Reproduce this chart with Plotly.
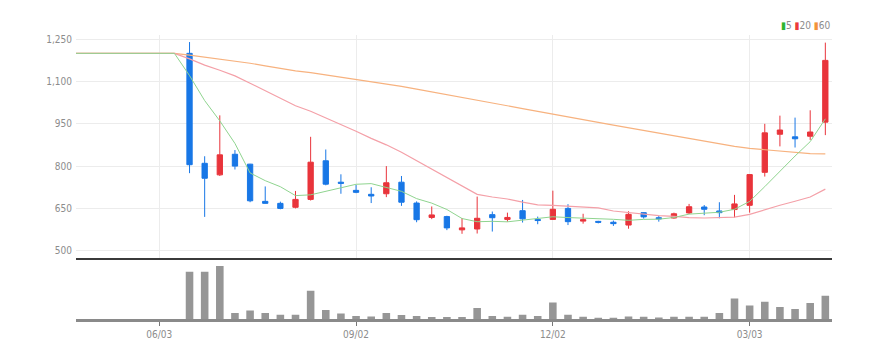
import plotly.graph_objects as go
from plotly.subplots import make_subplots
import pandas as pd

# ---- data (weekly candles) ----
dates = pd.date_range("2024-06-17", periods=43, freq="7D").strftime("%Y-%m-%d").tolist()
opens  = [1200, 810, 769, 842, 807, 675, 668, 654, 682, 819,
          743, 714, 700, 702, 743, 669, 618, 621, 574, 577,
          628, 611, 642, 611, 611, 650, 605, 604, 601, 591,
          635, 617, 616, 634, 655, 641, 646, 661, 778, 913,
          904, 906, 956]
highs  = [1240, 835, 980, 857, 808, 728, 674, 712, 904, 859,
          771, 733, 725, 800, 765, 675, 657, 624, 616, 692,
          639, 635, 680, 621, 713, 665, 631, 606, 607, 640,
          636, 624, 635, 666, 662, 672, 698, 771, 950, 979,
          972, 998, 1238]
lows   = [775, 620, 765, 788, 672, 667, 647, 650, 678, 732,
          702, 704, 669, 690, 659, 601, 612, 573, 560, 561,
          568, 603, 600, 594, 609, 591, 596, 597, 588, 578,
          614, 603, 614, 630, 626, 615, 618, 635, 763, 870,
          866, 893, 910]
closes = [805, 757, 840, 800, 677, 668, 650, 682, 814, 736,
          739, 707, 694, 741, 672, 610, 627, 581, 581, 615,
          617, 618, 613, 607, 647, 603, 610, 601, 596, 629,
          620, 613, 631, 656, 647, 635, 666, 770, 918, 928,
          897, 921, 1175]
volumes = [4730000, 4730000, 5300000, 600000, 860000, 600000, 430000, 430000, 2830000, 900000,
           560000, 300000, 260000, 600000, 400000, 300000, 200000, 200000, 200000, 1100000,
           300000, 230000, 430000, 300000, 1660000, 430000, 230000, 100000, 100000, 260000,
           230000, 160000, 230000, 230000, 230000, 600000, 2060000, 1360000, 1730000, 1200000,
           1000000, 1600000, 2330000]

# moving-average lines (pre-listing weeks sit at the 1,200 offer price)
ma_dates = ["2024-04-22", "2024-04-29", "2024-05-06", "2024-05-13",
            "2024-05-20", "2024-05-27", "2024-06-03", "2024-06-10"] + dates
ma5 = [1200, 1200, 1200, 1200, 1200, 1200, 1200, 1200,
       1121.0, 1032.4, 960.4, 880.4, 775.8, 748.4, 727.0, 695.4, 698.2, 710.0,
       724.2, 735.6, 738.0, 723.4, 710.6, 684.8, 668.8, 646.2, 614.2, 602.8,
       604.2, 602.4, 608.8, 614.0, 620.4, 617.6, 616.0, 613.6, 611.4, 607.8,
       611.2, 611.8, 617.8, 629.8, 633.4, 636.4, 647.0, 674.8, 727.2, 783.4,
       835.8, 886.8, 967.8]
ma20 = [1200, 1200, 1200, 1200, 1200, 1200, 1200, 1200,
        1180.3, 1158.1, 1140.1, 1120.1, 1094.0, 1067.4, 1039.9, 1014.0, 994.7, 971.5,
        948.4, 923.8, 898.5, 875.5, 849.1, 819.6, 791.0, 760.0, 729.1, 699.8,
        690.4, 683.5, 672.1, 662.5, 661.0, 657.7, 655.7, 651.7, 640.8, 635.4,
        629.5, 624.8, 621.6, 617.4, 616.1, 617.4, 619.3, 628.8, 645.6, 661.3,
        675.3, 690.4, 718.5]
ma60 = [1200, 1200, 1200, 1200, 1200, 1200, 1200, 1200,
        1193.4, 1186.0, 1180.0, 1173.4, 1164.7, 1155.8, 1146.6, 1138.0, 1131.6, 1123.8,
        1116.1, 1107.9, 1099.5, 1091.8, 1083.0, 1073.2, 1063.7, 1053.3, 1043.0, 1033.3,
        1023.6, 1013.9, 1004.1, 994.2, 985.0, 975.0, 965.2, 955.2, 945.1, 935.6,
        926.0, 916.2, 906.7, 897.6, 888.4, 879.0, 870.1, 862.9, 858.2, 853.7,
        848.6, 844.0, 843.6]

x_tickvals = ["2024-06-03", "2024-09-02", "2024-12-02", "2025-03-03"]
x_ticktext = ["06/03", "09/02", "12/02", "03/03"]
y_tickvals = [500, 650, 800, 950, 1100, 1250]

RED = "#e9343b"
BLUE = "#1877e6"
FONT = "Liberation Sans Narrow, DejaVu Sans Condensed, Arial Narrow, Liberation Sans, sans-serif"

fig = make_subplots(rows=2, cols=1, shared_xaxes=True, vertical_spacing=0.0,
                    row_heights=[0.79, 0.21])

fig.add_trace(go.Scatter(x=ma_dates, y=ma60, mode="lines",
                         line=dict(color="#f7b27f", width=1.2), hoverinfo="skip"), row=1, col=1)
fig.add_trace(go.Scatter(x=ma_dates, y=ma20, mode="lines",
                         line=dict(color="#f4a0a8", width=1.2), hoverinfo="skip"), row=1, col=1)
fig.add_trace(go.Scatter(x=ma_dates, y=ma5, mode="lines",
                         line=dict(color="#8fd48f", width=1.0), hoverinfo="skip"), row=1, col=1)

fig.add_trace(go.Candlestick(
    x=dates, open=opens, high=highs, low=lows, close=closes,
    increasing=dict(line=dict(color=RED, width=1), fillcolor=RED),
    decreasing=dict(line=dict(color=BLUE, width=1), fillcolor=BLUE),
    whiskerwidth=0), row=1, col=1)

fig.add_trace(go.Bar(x=dates, y=volumes, width=302400000,
                     marker=dict(color="#969696", line=dict(width=0))), row=2, col=1)

fig.update_layout(
    width=889, height=358,
    margin=dict(l=76, r=57, t=35, b=39),
    paper_bgcolor="white", plot_bgcolor="white",
    showlegend=False, boxgap=0.5,
    font=dict(family=FONT, size=10, color="#8c8c8c"),
)

xrange = ["2024-04-25 12:00", "2025-04-10 02:00"]
fig.update_xaxes(type="date", range=xrange, rangeslider=dict(visible=False))
fig.update_xaxes(row=1, col=1, showgrid=True, gridcolor="#ececec", gridwidth=1,
                 tickvals=x_tickvals, showticklabels=False, ticks="",
                 showline=True, linecolor="#3a3a3a", linewidth=2, zeroline=False)
fig.update_xaxes(row=2, col=1, showgrid=False, tickvals=x_tickvals, ticktext=x_ticktext,
                 showticklabels=True, ticks="outside", ticklen=4, tickcolor="#777",
                 showline=True, linecolor="#8a8a8a", linewidth=3,
                 tickfont=dict(size=10, color="#8c8c8c"))

fig.update_yaxes(row=1, col=1, range=[475.2, 1265], domain=[0.2158, 1],
                 tickvals=y_tickvals, tickformat=",d", showgrid=True,
                 gridcolor="#ececec", gridwidth=1, zeroline=False, ticks="",
                 ticklabelstandoff=3, tickfont=dict(size=10, color="#8c8c8c"))
fig.update_yaxes(row=2, col=1, range=[0, 5920000], domain=[0, 0.2085],
                 showgrid=False, showticklabels=False, zeroline=False, ticks="")

fig.add_annotation(
    xref="paper", yref="paper", x=1.0, y=1.035, xanchor="right", yanchor="middle",
    showarrow=False, font=dict(size=10, color="#8c8c8c", family=FONT),
    text=("<span style='color:#2fb52f'>▮</span>5 "
          "<span style='color:#ec3a3a'>▮</span>20 "
          "<span style='color:#f3923a'>▮</span>60"))

fig.write_html("out.html", config={"displayModeBar": False},
               post_script="document.body.style.margin='0px';")
